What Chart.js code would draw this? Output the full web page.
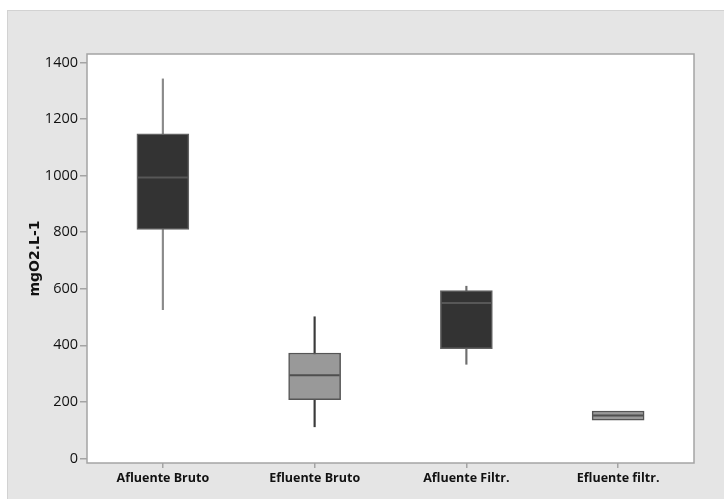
<!DOCTYPE html>
<html>
<head>
<meta charset="utf-8">
<script src="https://cdn.jsdelivr.net/npm/chart.js@4"></script>
<style>
  html, body { margin: 0; padding: 0; background: #ffffff; }
  #panel {
    position: absolute; left: 7px; top: 10px;
    width: 716px; height: 488px;
    background: #e5e5e5;
    border-top: 1px solid #d2d2d2; border-left: 1px solid #d2d2d2;
  }
  #chart { display: block; }
</style>
</head>
<body>
<div id="panel"><canvas id="chart" width="716" height="488"></canvas></div>
<script>
// COD box plots per sampling point (mgO2/L)
const categories   = ['Afluente Bruto', 'Efluente Bruto', 'Afluente Filtr.', 'Efluente filtr.'];
const whiskerLow   = [526, 112, 333, 135];
const q1           = [810, 208, 388, 135];
const median       = [993, 294, 550, 152];
const q3           = [1148, 373, 594, 168];
const whiskerHigh  = [1342, 501, 609, 168];
const yTicks       = [0, 200, 400, 600, 800, 1000, 1200, 1400];

// influent boxes dark, effluent boxes light
const boxFill      = ['#333333', '#999999', '#333333', '#999999'];
const boxEdge      = ['#626262', '#555555', '#626262', '#555555'];
const medianColor  = ['#575757', '#4f4f4f', '#575757', '#4f4f4f'];
// last whisker collapses onto its box, so it stays hidden
const whiskerColor = ['#8a8a8a', '#3a3a3a', '#6e6e6e', 'rgba(0,0,0,0)'];

const FONT = "'Open Sans', 'Noto Sans', sans-serif";

// white plotting area and its grey frame
const plotBg = {
  id: 'plotBg',
  beforeDraw(chart) {
    const {ctx, chartArea: a} = chart;
    ctx.save();
    ctx.fillStyle = '#ffffff';
    ctx.fillRect(a.left, a.top, a.right - a.left, a.bottom - a.top);
    ctx.restore();
  }
};
const frame = {
  id: 'frame',
  afterDraw(chart) {
    const {ctx, chartArea: a} = chart;
    ctx.save();
    ctx.strokeStyle = '#a4a4a4';
    ctx.lineWidth = 1.5;
    ctx.strokeRect(a.left, a.top, a.right - a.left, a.bottom - a.top);
    ctx.restore();
  }
};

new Chart(document.getElementById('chart'), {
  data: {
    labels: categories,
    datasets: [
      {
        type: 'line',
        label: 'Mediana',
        data: median,
        showLine: false,
        pointStyle: 'line',
        pointRadius: 25,
        pointHoverRadius: 25,
        pointBorderWidth: 2,
        pointBorderColor: medianColor,
        pointBackgroundColor: medianColor,
        order: 0
      },
      {
        type: 'bar',
        label: 'Q1-Q3',
        data: q1.map((v, i) => [v, q3[i]]),
        backgroundColor: boxFill,
        borderColor: boxEdge,
        borderWidth: 1.5,
        borderSkipped: false,
        barThickness: 52,
        order: 1
      },
      {
        type: 'bar',
        label: 'Bigodes',
        data: whiskerLow.map((v, i) => [v, whiskerHigh[i]]),
        backgroundColor: whiskerColor,
        borderWidth: 0,
        barThickness: 1.5,
        order: 2
      }
    ]
  },
  options: {
    responsive: false,
    animation: false,
    events: [],
    datasets: { bar: { grouped: false } },
    layout: { padding: { left: 0, top: 43, right: 30, bottom: 0 } },
    plugins: {
      legend: { display: false },
      tooltip: { enabled: false }
    },
    scales: {
      x: {
        type: 'category',
        offset: true,
        border: { display: false },
        grid: {
          display: true, offset: false, drawOnChartArea: false, drawTicks: true,
          tickLength: 5, color: '#a4a4a4', lineWidth: 1.5
        },
        ticks: {
          padding: 3,
          color: '#111111',
          font: { family: FONT, size: 12.5, weight: 'bold' }
        },
        afterFit(scale) { scale.height = 36; }
      },
      y: {
        type: 'linear',
        min: -16,
        max: 1430,
        border: { display: false },
        grid: {
          display: true, drawOnChartArea: false, drawTicks: true,
          tickLength: 7, color: '#a4a4a4', lineWidth: 1.5
        },
        ticks: {
          padding: 2,
          includeBounds: false,
          color: '#111111',
          font: { family: FONT, size: 14.5 },
          callback: (v) => String(v)
        },
        afterBuildTicks(scale) { scale.ticks = yTicks.map(v => ({ value: v })); },
        title: {
          display: true,
          text: 'mgO2.L-1',
          color: '#111111',
          font: { family: "'DejaVu Sans', sans-serif", size: 14, weight: 'bold' },
          padding: { top: 19, bottom: 0 }
        },
        afterFit(scale) { scale.width = 79; }
      }
    }
  },
  plugins: [plotBg, frame]
});
</script>
</body>
</html>
